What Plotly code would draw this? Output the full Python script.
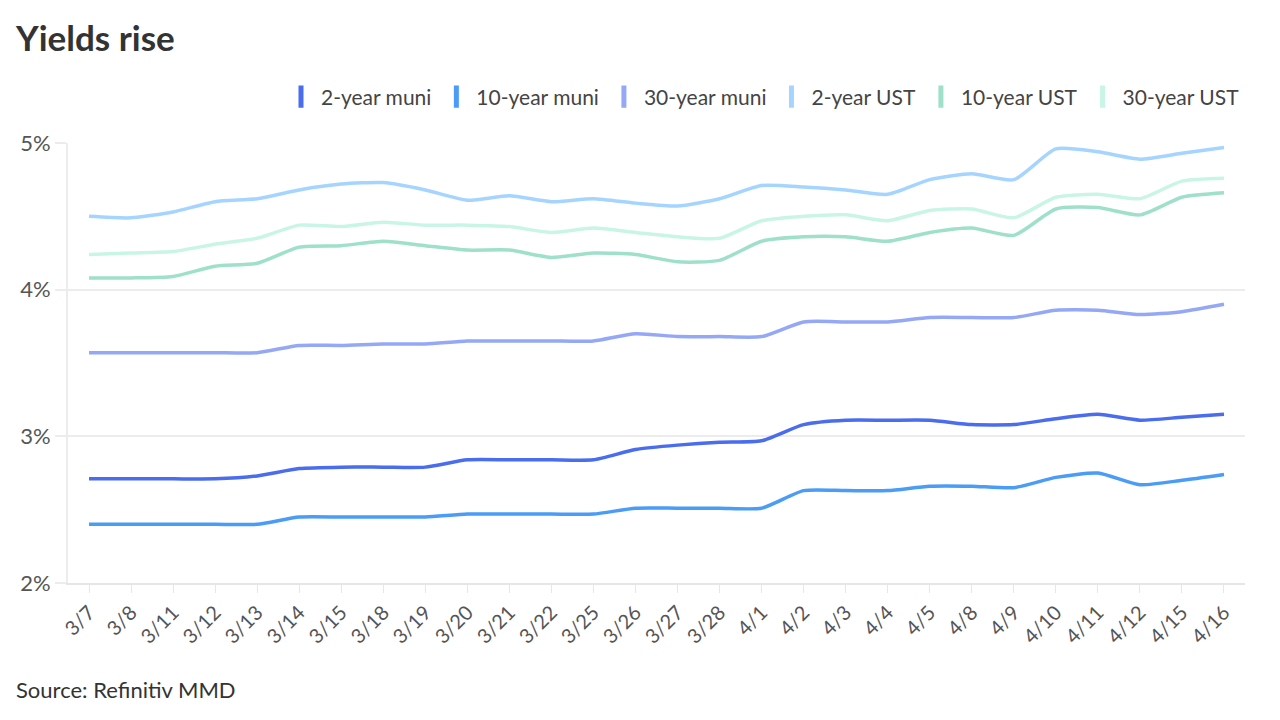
import plotly.graph_objects as go

dates = ["3/7","3/8","3/11","3/12","3/13","3/14","3/15","3/18","3/19","3/20",
         "3/21","3/22","3/25","3/26","3/27","3/28","4/1","4/2","4/3","4/4",
         "4/5","4/8","4/9","4/10","4/11","4/12","4/15","4/16"]

muni_2y = [2.71,2.71,2.71,2.71,2.73,2.78,2.79,2.79,2.79,2.84,
           2.84,2.84,2.84,2.91,2.94,2.96,2.97,3.08,3.11,3.11,
           3.11,3.08,3.08,3.12,3.15,3.11,3.13,3.15]
muni_10y = [2.40,2.40,2.40,2.40,2.40,2.45,2.45,2.45,2.45,2.47,
            2.47,2.47,2.47,2.51,2.51,2.51,2.51,2.63,2.63,2.63,
            2.66,2.66,2.65,2.72,2.75,2.67,2.70,2.74]
muni_30y = [3.57,3.57,3.57,3.57,3.57,3.62,3.62,3.63,3.63,3.65,
            3.65,3.65,3.65,3.70,3.68,3.68,3.68,3.78,3.78,3.78,
            3.81,3.81,3.81,3.86,3.86,3.83,3.85,3.90]
ust_2y = [4.50,4.49,4.53,4.60,4.62,4.68,4.72,4.73,4.68,4.61,
          4.64,4.60,4.62,4.59,4.57,4.62,4.71,4.70,4.68,4.65,
          4.75,4.79,4.75,4.96,4.94,4.89,4.93,4.97]
ust_10y = [4.08,4.08,4.09,4.16,4.18,4.29,4.30,4.33,4.30,4.27,
           4.27,4.22,4.25,4.24,4.19,4.20,4.33,4.36,4.36,4.33,
           4.39,4.42,4.37,4.55,4.56,4.51,4.63,4.66]
ust_30y = [4.24,4.25,4.26,4.31,4.35,4.44,4.43,4.46,4.44,4.44,
           4.43,4.39,4.42,4.39,4.36,4.35,4.47,4.50,4.51,4.47,
           4.54,4.55,4.49,4.63,4.65,4.62,4.74,4.76]

series_names = ["2-year muni","10-year muni","30-year muni","2-year UST","10-year UST","30-year UST"]
series_values = [muni_2y, muni_10y, muni_30y, ust_2y, ust_10y, ust_30y]
colors = ["#4a6cee","#4a9cf6","#94a8f6","#a5d5ff","#9ee0c9","#c9f5e6"]

y_ticks = [2, 3, 4, 5]
y_tick_labels = ["2%", "3%", "4%", "5%"]

fig = go.Figure()
for name, vals, col in zip(series_names, series_values, colors):
    fig.add_trace(go.Scatter(
        x=dates, y=vals, name=name, mode="lines",
        line=dict(color=col, width=3.5, shape="spline", smoothing=0.6),
        showlegend=False, hoverinfo="x+y+name"))
# legend swatches
for name, col in zip(series_names, colors):
    fig.add_trace(go.Scatter(
        x=[None], y=[None], name=name, mode="markers",
        marker=dict(symbol="line-ns", size=20, color=col,
                    line=dict(color=col, width=10)),
        showlegend=True))

fig.update_layout(
    width=1272, height=712,
    paper_bgcolor="white", plot_bgcolor="white",
    font=dict(family="Lato", color="#444"),
    margin=dict(l=56, r=35, t=135, b=137),
    title=dict(text="<b>Yields rise</b>", x=0.0063, xanchor="left",
               y=0.9565, yanchor="middle",
               font=dict(family="Lato", size=35, color="#333")),
    legend=dict(orientation="h", x=1.0, xanchor="right", y=1.1045, yanchor="middle",
                font=dict(family="Lato", size=21, color="#444"),
                itemwidth=30, tracegroupgap=0, bgcolor="rgba(0,0,0,0)"),
    xaxis=dict(type="category", range=[-0.5, len(dates) - 0.5],
               tickangle=-45, tickfont=dict(family="Lato", size=20, color="#555"),
               showgrid=False, showline=True, linecolor="#e6e6e6", linewidth=2,
               ticks="outside", ticklen=8, tickcolor="#e6e6e6", tickwidth=1,
               zeroline=False),
    yaxis=dict(range=[2, 5], tickvals=y_ticks, ticktext=y_tick_labels,
               tickfont=dict(family="Lato", size=22, color="#555"),
               showgrid=True, gridcolor="#ececec", gridwidth=2,
               showline=True, linecolor="#ececec", linewidth=2,
               ticks="outside", ticklen=11, tickcolor="#ececec", tickwidth=2,
               zeroline=False),
    annotations=[dict(text="Source: Refinitiv MMD", xref="paper", yref="paper",
                      x=-0.0455, xanchor="left", y=-0.243, yanchor="middle",
                      showarrow=False,
                      font=dict(family="Lato", size=22, color="#333"))],
)

fig.write_html("out.html")
